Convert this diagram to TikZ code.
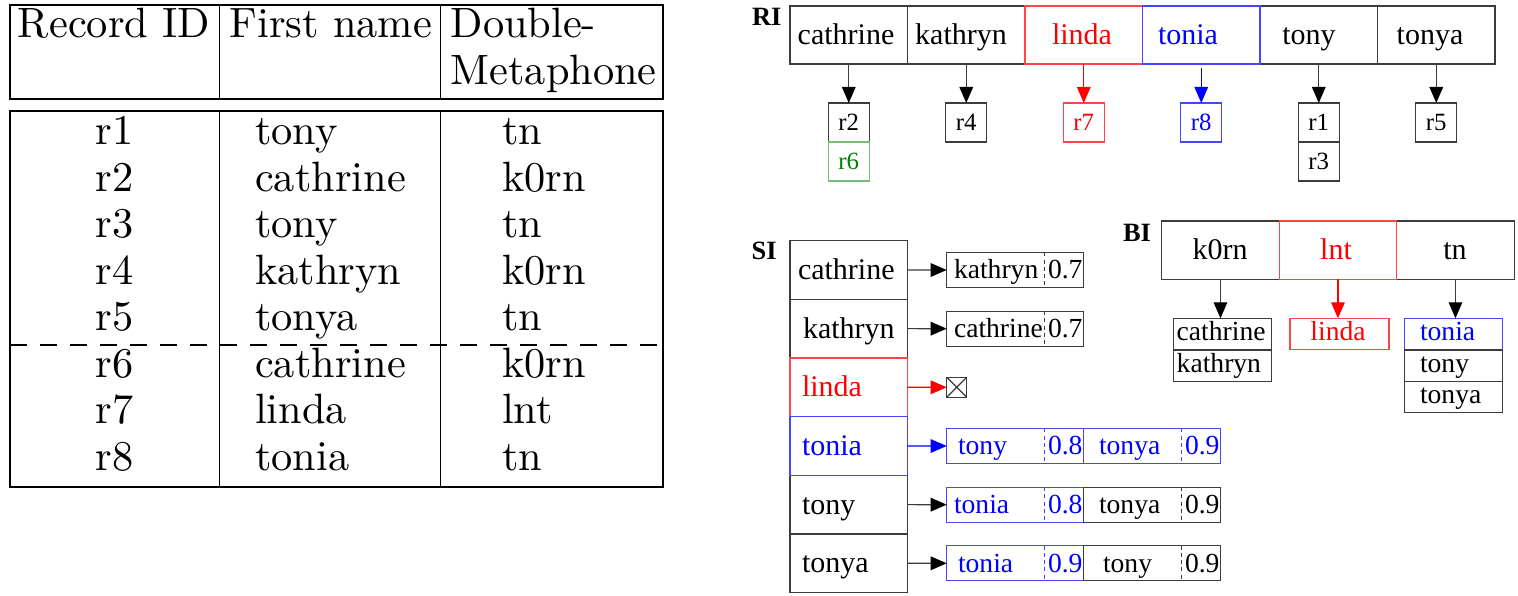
\documentclass[tikz,border=0pt]{standalone}
\usepackage{fontspec}
\newfontfamily\tmsfont{Liberation Serif}
\usetikzlibrary{arrows.meta}
\newcommand\FTab{\fontsize{10.6}{12.7}\selectfont}
\newcommand\FBig{\tmsfont\fontsize{7.5}{9}\selectfont}
\newcommand\FSm{\tmsfont\fontsize{6.9}{8.3}\selectfont}
\newcommand\FRl{\tmsfont\fontsize{6.2}{7.4}\selectfont}
\newcommand\FLab{\tmsfont\bfseries\fontsize{6.6}{8}\selectfont}
\definecolor{dgreen}{RGB}{0,128,0}
\definecolor{lgreen}{RGB}{120,190,120}
\definecolor{lred}{RGB}{255,70,70}
\definecolor{lblue}{RGB}{70,70,255}
\definecolor{lc}{RGB}{60,60,60}
\tikzset{
  tline/.style={line width=0.45pt, black},
  ln/.style={draw=lc, line width=0.3pt},
  cellbox/.style={ln, inner sep=0pt, outer sep=0pt, anchor=north west},
  lname/.style={inner sep=0pt, outer sep=0pt, anchor=north west, minimum width=24.5pt, minimum height=8.75pt},
  lscore/.style={inner sep=0pt, outer sep=0pt, anchor=north west, minimum width=9.75pt, minimum height=8.75pt},
  lbox/.style={ln, inner sep=0pt, outer sep=0pt, anchor=north, minimum width=10.25pt, minimum height=9.75pt, font=\FRl},
  tx/.style={anchor=base, inner sep=0pt, outer sep=0pt},
  txw/.style={anchor=base west, inner sep=0pt, outer sep=0pt},
  arr/.style={draw=lc, line width=0.3pt, -{Triangle[length=4pt,width=3.4pt,color=black]}},
  arrR/.style={draw=red, line width=0.3pt, -{Triangle[length=4pt,width=3.4pt]}},
  arrB/.style={draw=blue, line width=0.3pt, -{Triangle[length=4pt,width=3.4pt]}},
  sdash/.style={dash pattern=on 1pt off 0.8pt},
}
\begin{document}
\begin{tikzpicture}[x=0.25pt,y=-0.25pt]
\useasboundingbox (0,0) rectangle (1518,596);

% ---------------- table ----------------
\draw[tline] (10,5) rectangle (663,99);
\draw[tline] (219.5,5) -- (219.5,99) (440.5,5) -- (440.5,99);
\draw[tline] (10,111) rectangle (663,487);
\draw[tline] (219.5,111) -- (219.5,487) (440.5,111) -- (440.5,487);
\draw[tline, dash pattern=on 4.3pt off 3.2pt] (10,345) -- (663,345);

\node[txw, font=\FTab] (h1) at (18,37.7) {Record ID};
\node[txw, font=\FTab] (h2) at (229.6,37.7) {First name};
\node[txw, font=\FTab] (h3) at (450.6,37.7) {Double-};
\node[txw, font=\FTab] (h4) at (450.6,85) {Metaphone};

\foreach \rid/\nm/\dm [count=\k from 0] in {r1/tony/tn, r2/cathrine/k0rn, r3/tony/tn, r4/kathryn/k0rn, r5/tonya/tn, r6/cathrine/k0rn, r7/linda/lnt, r8/tonia/tn}{
  \node[tx, font=\FTab] (tid\k) at (114.75,{145+46.5*\k}) {\rid};
  \node[txw, font=\FTab] (tnm\k) at (255,{145+46.5*\k}) {\nm};
  \node[txw, font=\FTab] (tdm\k) at (502,{145+46.5*\k}) {\dm};
}

% ---------------- RI ----------------
\node[txw, font=\FLab] (riL) at (752,26) {RI};
\foreach \n/\xx in {1/790,2/907.5,5/1260,6/1377.5}
  \node[cellbox, minimum width=29.375pt, minimum height=14.5pt] (ri\n) at (\xx,6) {};
\node[cellbox, draw=lred, minimum width=29.375pt, minimum height=14.5pt] (ri3) at (1025,6) {};
\node[cellbox, draw=lblue, minimum width=29.375pt, minimum height=14.5pt] (ri4) at (1142.5,6) {};

\node[tx, font=\FBig] (rit1) at (846,45) {cathrine};
\node[tx, font=\FBig] (rit2) at (961,45) {kathryn};
\node[tx, font=\FBig, text=red] (rit3) at (1082,45) {linda};
\node[tx, font=\FBig, text=blue] (rit4) at (1188,45) {tonia};
\node[tx, font=\FBig] (rit5) at (1309,45) {tony};
\node[tx, font=\FBig] (rit6) at (1430,45) {tonya};

\node[lbox] (rl2) at (848.75,103) {r2};
\node[lbox, draw=lgreen, text=dgreen] (rl6) at (848.75,142) {r6};
\node[lbox] (rl4) at (966.25,103) {r4};
\node[lbox, draw=lred, text=red] (rl7) at (1083.75,103) {r7};
\node[lbox, draw=lblue, text=blue] (rl8) at (1201.25,103) {r8};
\node[lbox] (rl1) at (1318.75,103) {r1};
\node[lbox] (rl3) at (1318.75,142) {r3};
\node[lbox] (rl5) at (1436.25,103) {r5};

\draw[arr] (ri1.south) -- (rl2.north);
\draw[arr] (ri2.south) -- (rl4.north);
\draw[arrR] (ri3.south) -- (rl7.north);
\draw[arrB, shorten <=1pt] (ri4.south) -- (rl8.north);
\draw[arr] (ri5.south) -- (rl1.north);
\draw[arr] (ri6.south) -- (rl5.north);

% ---------------- SI ----------------
\node[txw, font=\FLab] (siL) at (751.7,260) {SI};
\foreach \n/\yy in {1/240.7,2/299.3,5/475.3,6/534}
  \node[cellbox, minimum width=29.33pt, minimum height=14.67pt] (si\n) at (790,\yy) {};
\node[cellbox, draw=lred, minimum width=29.33pt, minimum height=14.67pt] (si3) at (790,358) {};
\node[cellbox, draw=lblue, minimum width=29.33pt, minimum height=14.67pt] (si4) at (790,416.7) {};

\node[txw, font=\FBig] (sit1) at (798,279.5) {cathrine};
\node[txw, font=\FBig] (sit2) at (803,338.2) {kathryn};
\node[txw, font=\FBig, text=red] (sit3) at (802,396.8) {linda};
\node[txw, font=\FBig, text=blue] (sit4) at (802,455.5) {tonia};
\node[txw, font=\FBig] (sit5) at (802,514.2) {tony};
\node[txw, font=\FBig] (sit6) at (802,572.8) {tonya};

% list row 1
\node[lname] (s1n) at (946.7,252.5) {};
\node[lscore] (s1s) at (s1n.north east) {};
\draw[ln] (s1n.north west) rectangle (s1s.south east);
\draw[ln, sdash] (s1s.north west) -- (s1s.south west);
\node[txw, font=\FSm] (s1a) at (954,279) {kathryn};
\node[txw, font=\FSm] (s1b) at (1048,279) {0.7};
% list row 2
\node[lname] (s2n) at (946.7,311.2) {};
\node[lscore] (s2s) at (s2n.north east) {};
\draw[ln] (s2n.north west) rectangle (s2s.south east);
\draw[ln, sdash] (s2s.north west) -- (s2s.south west);
\node[txw, font=\FSm] (s2a) at (954,337.7) {cathrine};
\node[txw, font=\FSm] (s2b) at (1048,337.7) {0.7};
% row 3 : empty
\node[cellbox, minimum size=5pt, path picture={\draw[lc, line width=0.3pt] (path picture bounding box.north west) -- (path picture bounding box.south east) (path picture bounding box.south west) -- (path picture bounding box.north east);}] (sx) at (946.7,377.3) {};
% list row 4
\node[lname] (s4n) at (946.7,428.5) {};
\node[lscore] (s4s) at (s4n.north east) {};
\node[lname] (s4m) at (s4s.north east) {};
\node[lscore] (s4t) at (s4m.north east) {};
\draw[ln, draw=lblue] (s4n.north west) rectangle (s4t.south east);
\draw[ln, draw=lblue] (s4m.north west) -- (s4m.south west);
\draw[ln, draw=lblue, sdash] (s4s.north west) -- (s4s.south west) (s4t.north west) -- (s4t.south west);
\node[txw, font=\FSm, text=blue] (s4a) at (958,455) {tony};
\node[txw, font=\FSm, text=blue] (s4b) at (1048,455) {0.8};
\node[txw, font=\FSm, text=blue] (s4c) at (1099,455) {tonya};
\node[txw, font=\FSm, text=blue] (s4d) at (1185,455) {0.9};
% list row 5
\node[lname] (s5n) at (946.7,487.2) {};
\node[lscore] (s5s) at (s5n.north east) {};
\node[lname] (s5m) at (s5s.north east) {};
\node[lscore] (s5t) at (s5m.north east) {};
\draw[ln, draw=lblue] (s5n.north west) rectangle (s5s.south east);
\draw[ln, draw=lblue, sdash] (s5s.north west) -- (s5s.south west);
\draw[ln] (s5m.north west) rectangle (s5t.south east);
\draw[ln, sdash] (s5t.north west) -- (s5t.south west);
\node[txw, font=\FSm, text=blue] (s5a) at (954,513.7) {tonia};
\node[txw, font=\FSm, text=blue] (s5b) at (1048,513.7) {0.8};
\node[txw, font=\FSm] (s5c) at (1099,513.7) {tonya};
\node[txw, font=\FSm] (s5d) at (1185,513.7) {0.9};
% list row 6
\node[lname] (s6n) at (946.7,545.8) {};
\node[lscore] (s6s) at (s6n.north east) {};
\node[lname] (s6m) at (s6s.north east) {};
\node[lscore] (s6t) at (s6m.north east) {};
\draw[ln, draw=lblue] (s6n.north west) rectangle (s6s.south east);
\draw[ln, draw=lblue, sdash] (s6s.north west) -- (s6s.south west);
\draw[ln] (s6m.north west) rectangle (s6t.south east);
\draw[ln, sdash] (s6t.north west) -- (s6t.south west);
\node[txw, font=\FSm, text=blue] (s6a) at (958,572.3) {tonia};
\node[txw, font=\FSm, text=blue] (s6b) at (1048,572.3) {0.9};
\node[txw, font=\FSm] (s6c) at (1103,572.3) {tony};
\node[txw, font=\FSm] (s6d) at (1185,572.3) {0.9};

\draw[arr] (si1.east) -- (s1n.west);
\draw[arr] (si2.east) -- (s2n.west);
\draw[arrR] (si3.east) -- (sx.west);
\draw[arrB] (si4.east) -- (s4n.west);
\draw[arr] (si5.east) -- (s5n.west);
\draw[arr] (si6.east) -- (s6n.west);

% ---------------- BI ----------------
\node[txw, font=\FLab] (biL) at (1123,241.7) {BI};
\node[cellbox, minimum width=29.375pt, minimum height=14.575pt] (bi1) at (1161.7,221) {};
\node[cellbox, minimum width=29.375pt, minimum height=14.575pt] (bi3) at (1396.7,221) {};
\node[cellbox, draw=lred, minimum width=29.375pt, minimum height=14.575pt] (bi2) at (1279.2,221) {};
\node[tx, font=\FBig] (bit1) at (1220,259.5) {k0rn};
\node[tx, font=\FBig, text=red] (bit2) at (1336,259.5) {lnt};
\node[tx, font=\FBig] (bit3) at (1455,259.5) {tn};

\node[cellbox, minimum width=24.6pt, minimum height=7.9pt] (bl1a) at (1173.3,318.3) {};
\node[cellbox, minimum width=24.6pt, minimum height=7.9pt] (bl1b) at (1173.3,350) {};
\node[cellbox, draw=lred, minimum width=24.75pt, minimum height=7.9pt] (bl2) at (1290,318.3) {};
\node[cellbox, minimum width=24.5pt, minimum height=7.9pt] (bl3b) at (1404.3,350) {};
\node[cellbox, minimum width=24.5pt, minimum height=7.75pt] (bl3c) at (1404.3,381.7) {};
\node[cellbox, draw=lblue, minimum width=24.5pt, minimum height=7.9pt] (bl3a) at (1404.3,318.3) {};
\draw[lc, line width=0.3pt] (bl3b.north west) -- (bl3b.north east);

\node[txw, font=\FSm] (blt1) at (1176.7,340.7) {cathrine};
\node[txw, font=\FSm] (blt2) at (1176.7,372.3) {kathryn};
\node[tx, font=\FSm, text=red] (blt3) at (1338,340.7) {linda};
\node[txw, font=\FSm, text=blue] (blt4) at (1420,340.7) {tonia};
\node[txw, font=\FSm] (blt5) at (1420,372.3) {tony};
\node[txw, font=\FSm] (blt6) at (1420,403.3) {tonya};

\draw[arr] (bi1.south) -- (bi1.south |- bl1a.north);
\draw[arrR] (bi2.south) -- (bi2.south |- bl2.north);
\draw[arr] (bi3.south) -- (bi3.south |- bl3a.north);
\end{tikzpicture}
\end{document}
